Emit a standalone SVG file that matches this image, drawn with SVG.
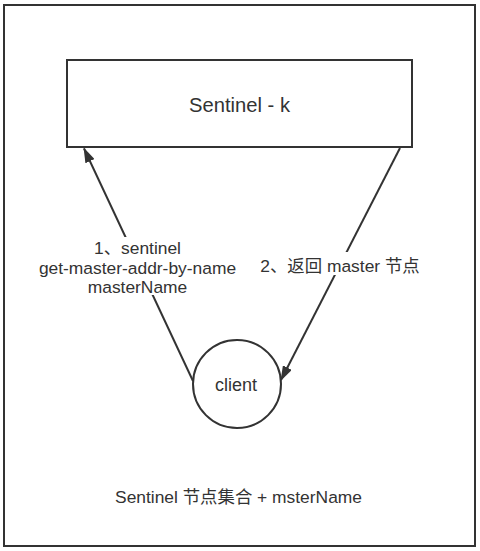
<svg xmlns="http://www.w3.org/2000/svg" width="480" height="551" viewBox="0 0 480 551">
<defs>
<style>
.box{fill:#fff;stroke:#333;stroke-width:2}
.edge{fill:none;stroke:#333;stroke-width:2}
text{font-family:"Liberation Sans","Noto Sans CJK SC",sans-serif;fill:#333;text-anchor:middle;dominant-baseline:central}
.lbl{font-size:17.4px}
.bg{fill:#fff}
</style>
<marker id="arr" viewBox="0 0 15 10" refX="14" refY="5" markerWidth="15" markerHeight="10" markerUnits="userSpaceOnUse" orient="auto">
<path d="M0,0 L15,5 L0,10 Z" fill="#333"/>
</marker>
</defs>
<rect width="480" height="551" fill="#fff"/>
<g id="frame">
<rect class="box" x="4" y="5" width="471" height="541"/>
<text x="238.5" y="497" class="lbl">Sentinel 节点集合 + msterName</text>
</g>
<g id="connectors">
<line class="edge" x1="193" y1="381" x2="84" y2="148.5" marker-end="url(#arr)"/>
<line class="edge" x1="400" y1="148" x2="281" y2="380" marker-end="url(#arr)"/>
<g id="label1">
<rect class="bg" x="34" y="237" width="208" height="58"/>
<text x="137.5" y="248" class="lbl">1、sentinel</text>
<text x="137.5" y="267.5" class="lbl">get-master-addr-by-name</text>
<text x="137.5" y="287" class="lbl">masterName</text>
</g>
<g id="label2">
<rect class="bg" x="260" y="252" width="160" height="23"/>
<text x="340" y="266" class="lbl">2、返回 master 节点</text>
</g>
</g>
<g id="sentinel">
<rect class="box" x="67" y="60" width="345" height="87"/>
<text x="239.5" y="105" style="font-size:20.2px">Sentinel - k</text>
</g>
<g id="client">
<circle class="box" cx="237" cy="384" r="44"/>
<text x="236" y="385" style="font-size:18px">client</text>
</g>
</svg>
